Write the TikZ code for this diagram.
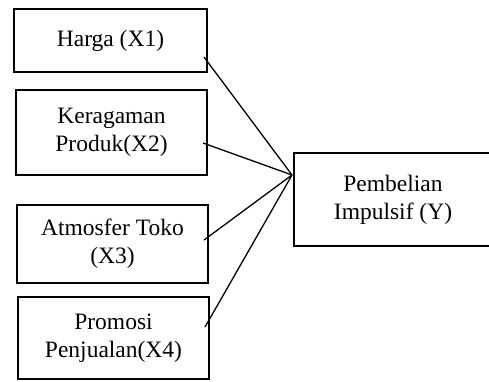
\documentclass[tikz,border=0pt]{standalone}
\usepackage{fontspec}
\setmainfont{Liberation Serif}
\begin{document}
\begin{tikzpicture}[x=1pt,y=-1pt,
  varbox/.style={draw, line width=2pt, align=center, inner sep=0pt,
    font=\fontsize{23.5}{28}\selectfont},
  link/.style={line width=1.3pt}]
\useasboundingbox (0,0) rectangle (489,381);
\node[varbox, minimum width=193pt, minimum height=63pt] (x1) at (110.5,40.5) {Harga (X1)};
\node[varbox, minimum width=191pt, minimum height=85pt] (x2) at (111.5,132.5) {Keragaman\\Produk(X2)};
\node[varbox, minimum width=191pt, minimum height=78pt] (x3) at (112.5,244) {Atmosfer Toko\\(X3)};
\node[varbox, minimum width=191pt, minimum height=82pt] (x4) at (113.5,338) {\raisebox{-3pt}{\begin{tabular}{@{}c@{}}Promosi\\Penjualan(X4)\end{tabular}}};
\node[varbox, minimum width=198pt, minimum height=93pt] (y) at (393,199.5) {Pembelian\\Impulsif (Y)};
\coordinate (j) at (292,175);
\coordinate (s1) at (204,57);
\coordinate (s2) at (203,143);
\coordinate (s3) at (204,240);
\coordinate (s4) at (205,327);
\draw[link] (s1) -- (j);
\draw[link] (s2) -- (j);
\draw[link] (s3) -- (j);
\draw[link] (s4) -- (j);
\end{tikzpicture}
\end{document}
